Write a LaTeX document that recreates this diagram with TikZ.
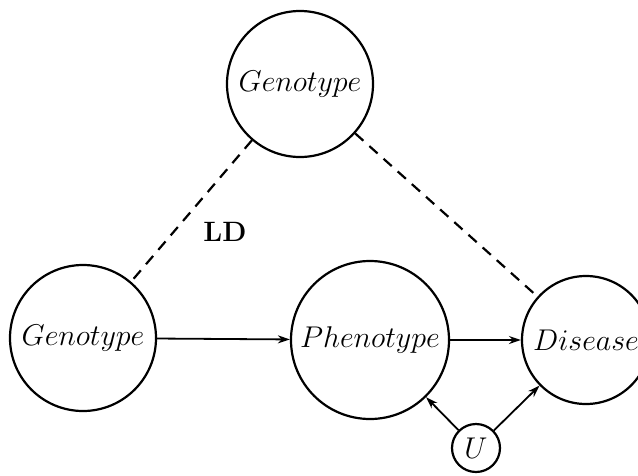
\RequirePackage{fix-cm}
\documentclass[tikz,border=0pt]{standalone}
\usetikzlibrary{arrows.meta}
\begin{document}
\begin{tikzpicture}[x=1pt,y=-1pt,
  bigfont/.style={font=\fontsize{30}{36}\selectfont},
  var/.style={draw,circle,line width=2.2pt,inner sep=0pt,bigfont},
  ld/.style={line width=2.2pt,dash pattern=on 11pt off 8pt},
  arr/.style={line width=1.8pt,-{Stealth[length=12pt,width=8pt]}}]
\useasboundingbox (0,0) rectangle (638,475);
\node[var,minimum size=146pt] (gtop)  at (300,84)  {$Genotype$};
\node[var,minimum size=146pt] (gleft) at (83,338)  {$Genotype$};
\node[var,minimum size=158pt] (pheno) at (370,340) {$Phenotype$};
\node[var,minimum size=128pt] (dis)   at (586,340) {$Disease$};
\node[var,minimum size=48pt]  (u)     at (476,448) {$U$};
\node[font=\fontsize{28}{33}\selectfont\bfseries] (ldlab) at (225,232) {LD};
\draw[ld] (gtop) -- (gleft);
\draw[ld] (gtop) -- (dis);
\draw[arr] (gleft) -- (pheno);
\draw[arr] (pheno) -- (dis);
\draw[arr] (u) -- (pheno);
\draw[arr] (u) -- (dis);
\end{tikzpicture}
\end{document}
